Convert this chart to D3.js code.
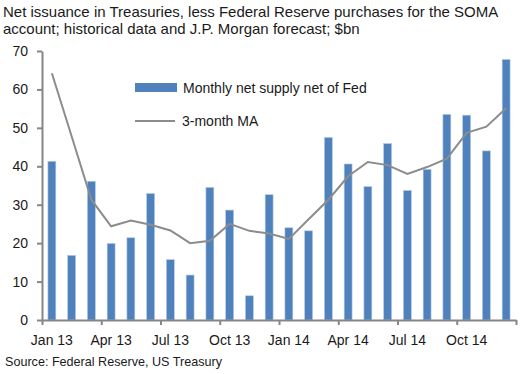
<!doctype html>
<html>
<head>
<meta charset="utf-8">
<script src="https://cdn.jsdelivr.net/npm/d3@7"></script>
<style>
  body { margin: 0; background: #fff; }
  text { font-family: "Liberation Sans", Arial, sans-serif; fill: #1a1a1a; }
</style>
</head>
<body>
<script>
// monthly categories, Jan 13 .. Dec 14
var months = ["Jan 13","Feb 13","Mar 13","Apr 13","May 13","Jun 13","Jul 13","Aug 13","Sep 13","Oct 13","Nov 13","Dec 13",
              "Jan 14","Feb 14","Mar 14","Apr 14","May 14","Jun 14","Jul 14","Aug 14","Sep 14","Oct 14","Nov 14","Dec 14"];
var netSupply = [41.3, 16.8, 36.1, 19.9, 21.4, 32.9, 15.7, 11.7, 34.5, 28.6, 6.3, 32.6,
                 24.0, 23.2, 47.5, 40.6, 34.7, 45.9, 33.7, 39.2, 53.5, 53.3, 44.0, 67.8];
var ma3 = [64.2, 47.8, 31.3, 24.4, 25.9, 24.8, 23.3, 20.0, 20.6, 25.0, 23.2, 22.5,
           21.1, 26.2, 31.3, 37.4, 41.1, 40.3, 38.0, 39.8, 42.0, 48.7, 50.3, 55.1];
var tickLabels = ["Jan 13","Apr 13","Jul 13","Oct 13","Jan 14","Apr 14","Jul 14","Oct 14"];
var yTicks = [0, 10, 20, 30, 40, 50, 60, 70];

var W = 520, H = 374;
var mLeft = 42, mRight = 516, mTop = 51, mBottom = 320;
var axisColor = "#868686";
var font = "Liberation Sans, Arial, sans-serif";

var svg = d3.select("body").append("svg")
    .attr("width", W)
    .attr("height", H);

// title
svg.append("text").attr("x", 3).attr("y", 17).attr("font-size", 15)
    .text("Net issuance in Treasuries, less Federal Reserve purchases for the SOMA");
svg.append("text").attr("x", 3).attr("y", 34).attr("font-size", 15)
    .text("account; historical data and J.P. Morgan forecast; $bn");

var x = d3.scaleBand().domain(months).range([mLeft, mRight])
    .paddingInner(0.6).paddingOuter(0.3);
var xEdge = d3.scaleLinear().domain([0, months.length]).range([mLeft, mRight]);
var y = d3.scaleLinear().domain([0, 70]).range([mBottom, mTop]);

// bars
svg.selectAll(".bar")
    .data(netSupply)
    .enter()
    .append("rect")
    .attr("class", "bar")
    .attr("x", function(d, i) { return x(months[i]); })
    .attr("width", x.bandwidth())
    .attr("y", function(d) { return y(d); })
    .attr("height", function(d) { return y(0) - y(d); })
    .attr("fill", "#4F81BD")
    .attr("stroke", "#b3c8e3")
    .attr("stroke-width", 0.6);

// 3-month moving average
var line = d3.line()
    .x(function(d, i) { return x(months[i]) + x.bandwidth() / 2; })
    .y(function(d) { return y(d); });

svg.append("path")
    .datum(ma3)
    .attr("d", line)
    .attr("fill", "none")
    .attr("stroke", "#8c8c8c")
    .attr("stroke-width", 2);

// y axis
var yAxis = svg.append("g")
    .attr("transform", "translate(" + mLeft + ",0)")
    .call(d3.axisLeft(y).tickValues(yTicks).tickSize(5).tickSizeOuter(0).tickPadding(9));
yAxis.selectAll("text").attr("font-size", 14).style("font-family", font).attr("fill", "#1a1a1a");

// x axis: tick marks at quarter boundaries
svg.append("g")
    .attr("transform", "translate(0," + mBottom + ")")
    .call(d3.axisBottom(xEdge).tickValues(d3.range(0, months.length + 1, 3)).tickSize(5).tickSizeOuter(0).tickFormat(""));

// x labels under first month of each quarter
var xLabels = svg.append("g")
    .attr("transform", "translate(0," + mBottom + ")")
    .call(d3.axisBottom(x).tickValues(tickLabels).tickSize(0).tickPadding(15));
xLabels.select(".domain").remove();
xLabels.selectAll("text").attr("font-size", 14).style("font-family", font).attr("fill", "#1a1a1a");

svg.selectAll(".domain, .tick line").attr("stroke", axisColor).attr("stroke-width", 2);

// legend
var legend = svg.append("g");
legend.append("rect").attr("x", 135).attr("y", 83).attr("width", 42).attr("height", 9).attr("fill", "#4F81BD");
legend.append("text").attr("x", 183).attr("y", 93).attr("font-size", 14).text("Monthly net supply net of Fed");
legend.append("line").attr("x1", 135).attr("x2", 175).attr("y1", 121).attr("y2", 121)
    .attr("stroke", "#8c8c8c").attr("stroke-width", 2);
legend.append("text").attr("x", 182).attr("y", 126).attr("font-size", 14).text("3-month MA");

// source
svg.append("text").attr("x", 5).attr("y", 366).attr("font-size", 12.6)
    .text("Source: Federal Reserve, US Treasury");
</script>
</body>
</html>
